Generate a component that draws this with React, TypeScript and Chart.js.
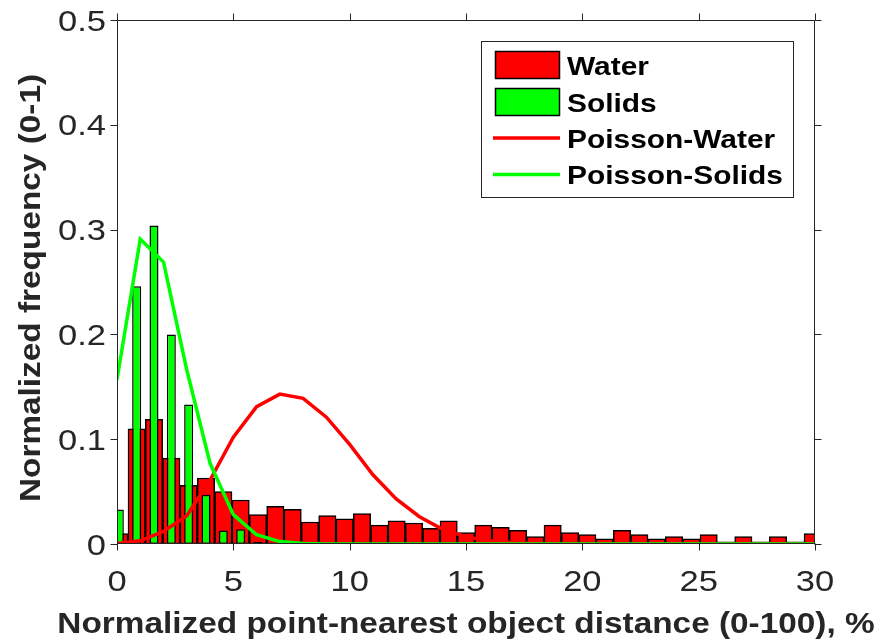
import React, { useEffect, useRef } from "react";
import { Chart, registerables } from "chart.js";

Chart.register(...registerables);

// Histogram bin centres (shared by both histograms)
const binCenters = [
  0.1, 0.845, 1.59, 2.335, 3.08, 3.825, 4.57, 5.315, 6.06, 6.805,
  7.55, 8.295, 9.04, 9.785, 10.53, 11.275, 12.02, 12.765, 13.51, 14.255,
  15.0, 15.745, 16.49, 17.235, 17.98, 18.725, 19.47, 20.215, 20.96, 21.705,
  22.45, 23.195, 23.94, 24.685, 25.43, 26.175, 26.92, 27.665, 28.41, 29.155,
  29.9,
];

// Normalized frequency of water points per bin
const waterFreq = [
  0.010, 0.110, 0.119, 0.082, 0.056, 0.063, 0.050, 0.042, 0.028, 0.036,
  0.033, 0.021, 0.027, 0.024, 0.029, 0.018, 0.022, 0.020, 0.015, 0.022,
  0.011, 0.018, 0.016, 0.013, 0.007, 0.018, 0.011, 0.009, 0.005, 0.013,
  0.009, 0.005, 0.007, 0.005, 0.009, 0.002, 0.007, 0.002, 0.007, 0.002,
  0.010,
];

// Normalized frequency of solid points per bin
const solidsFreq = [
  0.033, 0.246, 0.304, 0.200, 0.133, 0.047, 0.013, 0.014, 0.002, 0,
  0, 0, 0, 0, 0, 0, 0, 0, 0, 0,
  0, 0, 0, 0, 0, 0, 0, 0, 0, 0,
  0, 0, 0, 0, 0, 0, 0, 0, 0, 0,
  0,
];

// Fitted Poisson curves, evaluated at integer distances
const poissonX = [
  0, 1, 2, 3, 4, 5, 6, 7, 8, 9, 10, 11, 12, 13, 14, 15,
  16, 17, 18, 19, 20, 21, 22, 23, 24, 25, 26, 27, 28, 29, 30,
];
const poissonWater = [
  0.0004, 0.003, 0.012, 0.027, 0.061, 0.102, 0.131, 0.143, 0.139, 0.121,
  0.095, 0.066, 0.043, 0.026, 0.014, 0.007, 0.003, 0.0013, 0.0005, 0.0002,
  0.0001, 0, 0, 0, 0, 0, 0, 0, 0, 0, 0,
];
const poissonSolids = [
  0.157, 0.291, 0.269, 0.166, 0.077, 0.028, 0.0088, 0.0023, 0.0005, 0.0001,
  0, 0, 0, 0, 0, 0, 0, 0, 0, 0,
  0, 0, 0, 0, 0, 0, 0, 0, 0, 0, 0,
];

const xTicks = [0, 5, 10, 15, 20, 25, 30];
const xTickLabels = ["0", "5", "10", "15", "20", "25", "30"];
const yTicks = [0, 0.1, 0.2, 0.3, 0.4, 0.5];
const yTickLabels = ["0", "0.1", "0.2", "0.3", "0.4", "0.5"];

const seriesNames = ["Water", "Solids", "Poisson-Water", "Poisson-Solids"];
const xTitle = "Normalized point-nearest object distance (0-100), %";
const yTitle = "Normalized frequency (0-1)";

const RED = "#ff0000";
const GREEN = "#00ff00";
const AXIS = "#262626";
const FONT = '"Liberation Sans", Arial, Helvetica, sans-serif';
const STRETCH = 1.15;

type Align = "left" | "right" | "center";

function wideText(
  ctx: CanvasRenderingContext2D,
  text: string,
  x: number,
  y: number,
  align: Align,
  angle = 0
) {
  ctx.save();
  ctx.translate(x, y);
  if (angle) ctx.rotate(angle);
  ctx.scale(STRETCH, 1);
  ctx.textAlign = align;
  ctx.textBaseline = "alphabetic";
  ctx.fillText(text, 0, 0);
  ctx.restore();
}

// Boxed axes with outward ticks on all four sides, labels and titles
const framePlugin = {
  id: "boxedAxes",
  afterDraw(chart: Chart) {
    const ctx = chart.ctx;
    const { left, right, top, bottom } = chart.chartArea;
    const xs = chart.scales.x;
    const ys = chart.scales.y;
    const tick = 7;
    const L = Math.round(left) + 0.5;
    const R = Math.round(right) - 0.5;
    const T = Math.round(top) + 0.5;
    const B = Math.round(bottom) - 0.5;

    ctx.save();
    ctx.strokeStyle = AXIS;
    ctx.lineWidth = 1;
    ctx.beginPath();
    ctx.rect(L, T, R - L, B - T);
    xTicks.forEach((v) => {
      const px = Math.round(xs.getPixelForValue(v)) + 0.5;
      ctx.moveTo(px, B);
      ctx.lineTo(px, B + tick);
      ctx.moveTo(px, T);
      ctx.lineTo(px, T - tick);
    });
    yTicks.forEach((v) => {
      const py = Math.round(ys.getPixelForValue(v)) + 0.5;
      ctx.moveTo(L, py);
      ctx.lineTo(L - tick, py);
      ctx.moveTo(R, py);
      ctx.lineTo(R + tick, py);
    });
    ctx.stroke();

    ctx.fillStyle = AXIS;
    ctx.font = `30px ${FONT}`;
    xTicks.forEach((v, i) => {
      wideText(ctx, xTickLabels[i], xs.getPixelForValue(v), bottom + 47, "center");
    });
    yTicks.forEach((v, i) => {
      wideText(ctx, yTickLabels[i], left - 11, ys.getPixelForValue(v) + 10.5, "right");
    });

    ctx.font = `bold 29px ${FONT}`;
    wideText(ctx, xTitle, (left + right) / 2, bottom + 89, "center");
    wideText(ctx, yTitle, 40, (top + bottom) / 2 + 6, "center", -Math.PI / 2);
    ctx.restore();
  },
};

// Legend box in the upper right corner of the axes
const legendPlugin = {
  id: "boxLegend",
  afterDraw(chart: Chart) {
    const ctx = chart.ctx;
    const bx = 481.5;
    const by = 41.5;
    const bw = 312;
    const bh = 156;
    ctx.save();
    ctx.fillStyle = "#ffffff";
    ctx.fillRect(bx, by, bw, bh);
    ctx.strokeStyle = AXIS;
    ctx.lineWidth = 1;
    ctx.strokeRect(bx, by, bw, bh);

    const rowY = [65, 102, 138, 174.5];
    const colors = [RED, GREEN, RED, GREEN];
    chart.data.datasets.forEach((ds, i) => {
      const cy = rowY[i];
      if (ds.type === "line") {
        ctx.strokeStyle = colors[i];
        ctx.lineWidth = 3.5;
        ctx.beginPath();
        ctx.moveTo(493, cy);
        ctx.lineTo(560, cy);
        ctx.stroke();
      } else {
        ctx.fillStyle = colors[i];
        ctx.fillRect(495.5, cy - 13.5, 64, 27);
        ctx.strokeStyle = "#000000";
        ctx.lineWidth = 1.5;
        ctx.strokeRect(495.5, cy - 13.5, 64, 27);
      }
      ctx.fillStyle = "#000000";
      ctx.font = `bold 26px ${FONT}`;
      wideText(ctx, String(ds.label), 567, cy + 9.5, "left");
    });
    ctx.restore();
  },
};

export default function App() {
  const canvasRef = useRef<HTMLCanvasElement | null>(null);

  useEffect(() => {
    const canvas = canvasRef.current;
    if (!canvas) return;

    const chart = new Chart(canvas, {
      type: "bar",
      data: {
        datasets: [
          {
            type: "bar",
            label: seriesNames[0],
            data: binCenters.map((x, i) => ({ x, y: waterFreq[i] })),
            backgroundColor: RED,
            borderColor: "#000000",
            borderWidth: 1.5,
            borderSkipped: false,
            barPercentage: 1,
            categoryPercentage: 1,
            grouped: false,
            order: 3,
          },
          {
            type: "bar",
            label: seriesNames[1],
            data: binCenters.map((x, i) => ({ x, y: solidsFreq[i] })),
            backgroundColor: GREEN,
            borderColor: "#000000",
            borderWidth: 1.5,
            borderSkipped: false,
            barPercentage: 0.52,
            categoryPercentage: 1,
            grouped: false,
            order: 2,
          },
          {
            type: "line",
            label: seriesNames[2],
            data: poissonX.map((x, i) => ({ x, y: poissonWater[i] })),
            borderColor: RED,
            borderWidth: 3.5,
            pointRadius: 0,
            tension: 0,
            fill: false,
            order: 1,
          },
          {
            type: "line",
            label: seriesNames[3],
            data: poissonX.map((x, i) => ({ x, y: poissonSolids[i] })),
            borderColor: GREEN,
            borderWidth: 3.5,
            pointRadius: 0,
            tension: 0,
            fill: false,
            order: 0,
          },
        ] as any,
      },
      options: {
        responsive: false,
        animation: false,
        events: [],
        layout: {
          padding: { left: 117, right: 65, top: 20, bottom: 100 },
        },
        plugins: {
          legend: { display: false },
          tooltip: { enabled: false },
        },
        scales: {
          x: {
            type: "linear",
            display: false,
            min: 0,
            max: 30,
            offset: false,
            ticks: { stepSize: 5 },
          },
          y: {
            type: "linear",
            display: false,
            min: 0,
            max: 0.5,
            ticks: { stepSize: 0.1 },
          },
        },
      },
      plugins: [framePlugin, legendPlugin],
    });

    return () => chart.destroy();
  }, []);

  return (
    <div
      style={{
        position: "fixed",
        left: 0,
        top: 0,
        width: 880,
        height: 644,
        background: "#ffffff",
      }}
    >
      <canvas
        ref={canvasRef}
        width={880}
        height={644}
        style={{ width: 880, height: 644, display: "block" }}
      />
    </div>
  );
}
